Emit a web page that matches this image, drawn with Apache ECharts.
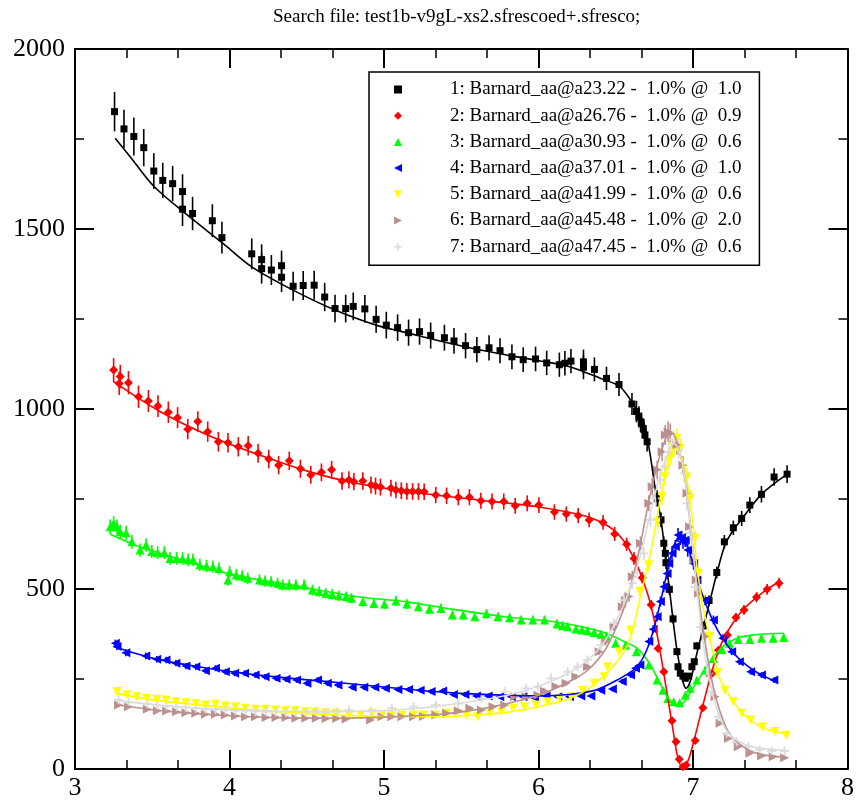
<!DOCTYPE html>
<html><head><meta charset="utf-8">
<script src="https://cdn.jsdelivr.net/npm/echarts@6/dist/echarts.min.js"></script>
<style>html,body{margin:0;padding:0;background:#fff}#c{width:857px;height:801px}</style>
</head><body><div id="c"></div>
<script>
const titleText = 'Search file: test1b-v9gL-xs2.sfrescoed+.sfresco;';
const legendNames = [
  '1: Barnard_aa@a23.22 -  1.0% @  1.0',
  '2: Barnard_aa@a26.76 -  1.0% @  0.9',
  '3: Barnard_aa@a30.93 -  1.0% @  0.6',
  '4: Barnard_aa@a37.01 -  1.0% @  1.0',
  '5: Barnard_aa@a41.99 -  1.0% @  0.6',
  '6: Barnard_aa@a45.48 -  1.0% @  2.0',
  '7: Barnard_aa@a47.45 -  1.0% @  0.6'
];
const colors = ['#000000','#ff0000','#00ff00','#0000ff','#ffff00','#bc8f8f','#dcdcdc'];
const errPct = 3; // relative size of the vertical error bars, %

const s1Points = [[3.256,1826],[3.317,1778],[3.381,1757],[3.445,1726],[3.510,1661],[3.568,1635],[3.632,1626],[3.696,1604],[3.696,1555],[3.761,1543],[3.889,1523],[3.951,1476],[4.144,1431],[4.208,1415],[4.208,1390],[4.271,1386],[4.337,1398],[4.337,1366],[4.412,1341],[4.477,1343],[4.548,1344],[4.616,1311],[4.683,1279],[4.752,1279],[4.801,1285],[4.876,1278],[4.949,1249],[5.015,1233],[5.088,1226],[5.159,1212],[5.230,1215],[5.302,1204],[5.391,1198],[5.453,1189],[5.528,1176],[5.601,1165],[5.680,1170],[5.751,1162],[5.828,1145],[5.901,1137],[5.981,1139],[6.053,1128],[6.135,1123],[6.171,1127],[6.210,1133],[6.291,1131],[6.291,1116],[6.362,1110],[6.440,1085],[6.521,1068],[6.605,1014],[6.634,993],[6.650,978],[6.665,962],[6.678,946],[6.689,928],[6.703,909],[6.768,752],[6.793,692],[6.811,627],[6.821,599],[6.825,573],[6.847,499],[6.871,417],[6.896,326],[6.903,284],[6.918,266],[6.935,258],[6.950,252],[6.972,258],[6.993,284],[7.008,298],[7.025,342],[7.068,398],[7.104,468],[7.154,546],[7.203,631],[7.261,670],[7.315,696],[7.368,733],[7.443,763],[7.525,811],[7.609,819]];
const s1Fit = [[3.26,1752],[3.357,1701],[3.507,1620],[3.70,1548],[3.958,1460],[4.144,1395],[4.408,1331],[4.683,1275],[4.949,1233],[5.116,1215],[5.545,1171],[5.974,1136],[6.189,1119],[6.403,1085],[6.521,1064],[6.596,1025],[6.682,960],[6.72,880],[6.757,775],[6.793,692],[6.843,516],[6.896,330],[6.935,243],[6.956,224],[6.982,243],[7.025,321],[7.068,395],[7.111,469],[7.154,543],[7.207,622],[7.261,664],[7.315,694],[7.443,763],[7.609,819]];

const s2Points = [[3.250,1108],[3.293,1090],[3.286,1071],[3.346,1073],[3.411,1034],[3.475,1022],[3.537,1008],[3.604,991],[3.664,976],[3.730,944],[3.795,965],[3.859,937],[3.928,909],[3.990,906],[4.057,895],[4.121,898],[4.185,877],[4.254,861],[4.318,844],[4.387,856],[4.459,834],[4.526,817],[4.595,824],[4.661,831],[4.728,800],[4.773,803],[4.805,798],[4.863,800],[4.916,789],[4.945,786],[4.977,783],[5.045,780],[5.077,775],[5.112,773],[5.148,771],[5.185,771],[5.223,771],[5.260,770],[5.335,761],[5.405,759],[5.481,755],[5.553,755],[5.627,745],[5.699,743],[5.775,743],[5.849,731],[5.927,738],[6.002,733],[6.103,714],[6.180,708],[6.257,704],[6.328,692],[6.418,685],[6.493,653],[6.570,624],[6.618,585],[6.671,531],[6.729,456],[6.774,335],[6.811,270],[6.864,134],[6.890,76],[6.911,27],[6.935,6],[6.956,11],[7.014,79],[7.064,170],[7.122,265],[7.165,330],[7.223,372],[7.278,421],[7.330,442],[7.411,477],[7.480,499],[7.557,516]];
const s2Fit = [[3.25,1076],[3.55,993],[3.872,925],[4.194,872],[4.515,826],[4.816,794],[5.2,768],[5.6,748],[6.0,728],[6.3,703],[6.45,675],[6.55,635],[6.62,583],[6.68,520],[6.73,450],[6.78,345],[6.83,215],[6.87,110],[6.90,35],[6.935,2],[6.97,25],[7.01,85],[7.06,170],[7.12,268],[7.18,345],[7.25,400],[7.33,445],[7.45,490],[7.557,520]];

const s3Points = [[3.228,673],[3.250,682],[3.272,673],[3.293,659],[3.331,656],[3.368,631],[3.421,608],[3.460,622],[3.497,604],[3.535,601],[3.578,601],[3.615,585],[3.658,585],[3.696,585],[3.732,581],[3.764,581],[3.808,567],[3.851,564],[3.893,562],[3.932,557],[3.990,525],[4.001,548],[4.044,539],[4.082,536],[4.118,530],[4.194,525],[4.230,522],[4.269,520],[4.311,516],[4.344,511],[4.387,511],[4.430,511],[4.483,511],[4.537,497],[4.580,493],[4.623,488],[4.665,485],[4.708,481],[4.755,479],[4.790,474],[4.863,465],[4.934,460],[5.003,458],[5.077,467],[5.148,458],[5.223,451],[5.294,444],[5.369,446],[5.442,428],[5.513,428],[5.588,423],[5.663,431],[5.738,423],[5.813,420],[5.888,414],[5.963,414],[6.039,414],[6.120,403],[6.156,398],[6.189,395],[6.242,389],[6.281,386],[6.317,384],[6.360,379],[6.403,374],[6.441,369],[6.499,349],[6.564,344],[6.634,326],[6.714,289],[6.768,247],[6.806,219],[6.836,196],[6.875,187],[6.914,184],[6.950,205],[6.982,224],[7.025,247],[7.078,275],[7.132,307],[7.186,332],[7.236,349],[7.293,360],[7.368,360],[7.443,363],[7.519,363],[7.587,365]];
const s3Fit = [[3.228,652],[3.4,620],[3.55,599],[3.8,566],[3.979,544],[4.2,525],[4.408,510],[4.6,495],[4.837,478],[5.138,465],[5.438,444],[5.781,423],[6.103,409],[6.3,393],[6.425,379],[6.55,355],[6.639,335],[6.72,292],[6.78,243],[6.83,203],[6.87,181],[6.907,175],[6.95,190],[7.0,225],[7.06,265],[7.12,305],[7.2,343],[7.3,365],[7.4,373],[7.5,376],[7.587,377]];

const s4Points = [[3.261,349],[3.272,340],[3.329,323],[3.458,314],[3.529,305],[3.589,303],[3.653,294],[3.718,286],[3.782,284],[3.844,273],[3.909,280],[3.973,270],[4.033,266],[4.097,266],[4.166,261],[4.230,256],[4.301,252],[4.366,249],[4.434,247],[4.501,238],[4.569,247],[4.633,238],[4.702,233],[4.794,227],[4.869,227],[4.940,227],[5.009,224],[5.090,221],[5.159,221],[5.234,219],[5.305,215],[5.380,217],[5.449,207],[5.524,207],[5.598,203],[5.674,203],[5.749,201],[5.824,201],[5.899,201],[5.974,198],[6.049,203],[6.124,201],[6.200,201],[6.274,203],[6.339,203],[6.403,219],[6.478,222],[6.542,243],[6.596,261],[6.628,280],[6.656,289],[6.714,354],[6.742,388],[6.768,423],[6.789,465],[6.811,506],[6.832,543],[6.843,571],[6.864,599],[6.886,618],[6.903,650],[6.918,641],[6.935,631],[6.950,636],[6.966,608],[7.004,571],[7.025,525],[7.078,469],[7.132,414],[7.192,363],[7.250,326],[7.300,298],[7.373,270],[7.443,261],[7.523,247]];
const s4Fit = [[3.25,340],[3.5,308],[3.8,284],[4.0,271],[4.3,256],[4.6,244],[4.9,232],[5.2,220],[5.5,210],[5.8,205],[6.0,203],[6.2,207],[6.35,217],[6.425,229],[6.5,245],[6.58,265],[6.639,284],[6.7,330],[6.75,395],[6.79,465],[6.84,560],[6.88,625],[6.918,645],[6.95,630],[6.99,585],[7.04,510],[7.1,440],[7.16,385],[7.22,345],[7.3,305],[7.4,272],[7.523,245]];

const s5Points = [[3.272,215],[3.336,206],[3.400,201],[3.465,196],[3.529,194],[3.589,192],[3.653,187],[3.718,184],[3.782,182],[3.846,178],[3.909,180],[3.973,175],[4.039,173],[4.104,169],[4.168,166],[4.232,166],[4.297,164],[4.361,162],[4.425,162],[4.490,159],[4.554,158],[4.623,156],[4.691,155],[4.773,150],[4.848,150],[4.923,155],[4.987,150],[5.051,150],[5.116,150],[5.191,150],[5.255,150],[5.331,150],[5.405,155],[5.470,155],[5.534,150],[5.609,145],[5.685,155],[5.759,159],[5.835,169],[5.910,173],[5.985,178],[6.060,187],[6.135,196],[6.210,201],[6.285,219],[6.360,238],[6.425,256],[6.446,284],[6.521,326],[6.596,386],[6.656,493],[6.714,567],[6.772,687],[6.800,756],[6.817,812],[6.843,858],[6.858,869],[6.875,895],[6.896,919],[6.918,891],[6.961,812],[6.982,752],[7.014,641],[7.036,543],[7.057,474],[7.107,368],[7.158,268],[7.207,219],[7.261,187],[7.315,155],[7.373,136],[7.450,117],[7.529,104],[7.604,94]];
const s5Fit = [[3.27,210],[3.5,192],[3.8,178],[4.1,166],[4.4,157],[4.708,150],[5.0,146],[5.36,145],[5.6,150],[5.8,158],[6.0,173],[6.2,196],[6.317,221],[6.43,262],[6.532,312],[6.6,370],[6.66,480],[6.725,599],[6.768,700],[6.81,800],[6.85,865],[6.885,890],[6.92,875],[6.96,805],[7.0,680],[7.025,562],[7.07,440],[7.111,358],[7.17,255],[7.24,201],[7.32,155],[7.42,122],[7.5,108],[7.604,97]];

const s6Points = [[3.282,178],[3.346,173],[3.468,166],[3.533,162],[3.593,161],[3.658,159],[3.718,156],[3.782,155],[3.844,152],[3.909,152],[3.973,150],[4.039,147],[4.104,145],[4.168,145],[4.237,143],[4.301,143],[4.366,143],[4.430,141],[4.494,141],[4.562,141],[4.626,140],[4.694,140],[4.755,139],[4.913,136],[4.987,145],[5.051,145],[5.116,145],[5.191,145],[5.255,146],[5.335,150],[5.405,155],[5.481,162],[5.556,169],[5.631,164],[5.706,173],[5.781,178],[5.845,201],[5.920,201],[5.996,205],[6.039,217],[6.113,229],[6.178,238],[6.242,256],[6.317,284],[6.393,326],[6.435,354],[6.489,395],[6.542,451],[6.564,469],[6.585,479],[6.607,534],[6.660,627],[6.714,738],[6.736,784],[6.768,831],[6.800,881],[6.821,928],[6.839,937],[6.853,932],[6.896,900],[6.935,844],[6.961,766],[6.978,673],[7.004,581],[7.021,525],[7.036,488],[7.078,368],[7.111,266],[7.143,201],[7.175,127],[7.229,85],[7.293,62],[7.368,44],[7.443,36],[7.519,34],[7.593,31]];
const s6Fit = [[3.28,178],[3.6,160],[4.0,148],[4.4,142],[4.708,141],[5.0,144],[5.36,152],[5.6,165],[5.8,182],[6.0,205],[6.1,222],[6.2,243],[6.32,275],[6.43,330],[6.5,390],[6.56,455],[6.61,530],[6.66,625],[6.71,735],[6.76,830],[6.8,890],[6.84,930],[6.87,932],[6.9,900],[6.94,830],[6.98,690],[7.02,530],[7.06,405],[7.1,295],[7.15,195],[7.2,130],[7.25,90],[7.35,55],[7.45,40],[7.593,33]];

const s7Points = [[3.282,192],[3.346,185],[3.468,180],[3.533,176],[3.593,175],[3.658,173],[3.718,171],[3.782,169],[3.844,166],[3.909,166],[3.973,164],[4.039,162],[4.104,162],[4.168,160],[4.237,159],[4.301,159],[4.366,157],[4.430,157],[4.494,157],[4.562,159],[4.626,157],[4.694,159],[4.773,164],[4.913,162],[5.051,169],[5.191,173],[5.335,178],[5.481,182],[5.631,196],[5.781,215],[5.920,224],[5.996,229],[6.081,252],[6.189,270],[6.253,284],[6.317,303],[6.403,344],[6.489,405],[6.553,469],[6.607,516],[6.639,553],[6.682,599],[6.725,692],[6.757,752],[6.789,803],[6.821,840],[6.843,881],[6.875,914],[6.907,886],[6.943,821],[6.961,738],[6.982,655],[7.014,506],[7.047,395],[7.090,275],[7.122,215],[7.165,145],[7.218,99],[7.282,76],[7.358,62],[7.432,53],[7.510,50],[7.593,50]];
const s7Fit = [[3.28,190],[3.6,175],[4.0,165],[4.4,160],[4.8,160],[5.2,168],[5.5,183],[5.8,205],[6.0,230],[6.2,268],[6.35,315],[6.45,370],[6.55,455],[6.62,535],[6.68,630],[6.74,740],[6.79,820],[6.84,880],[6.875,905],[6.91,885],[6.95,800],[6.99,650],[7.03,480],[7.07,340],[7.11,240],[7.16,160],[7.22,105],[7.3,75],[7.4,60],[7.593,52]];

const allPoints = [s1Points,s2Points,s3Points,s4Points,s5Points,s6Points,s7Points];
const allFits = [s1Fit,s2Fit,s3Fit,s4Fit,s5Fit,s6Fit,s7Fit];
const PLUS = 'path://M4,0H6V4H10V6H6V10H4V6H0V4H4Z';
const symbols = ['rect','diamond','triangle','triangle','triangle','triangle',PLUS];
const symbolRotates = [0,0,0,90,180,-90,0];
const symbolSizes = [7,9,9,9,9,9,9];
const legendIcons = ['rect','diamond','path://M5,0L10,10L0,10Z','path://M0,5L10,0L10,10Z','path://M0,0L10,0L5,10Z','path://M0,0L10,5L0,10Z',PLUS];

const FONT = 'Liberation Serif';
const series = [];
for (let i = 0; i < 7; i++) {
  const c = colors[i];
  series.push({
    type: 'line', name: 'fit' + (i + 1), data: allFits[i], showSymbol: false, symbol: 'none',
    smooth: 0.3, lineStyle: { color: c, width: 1.6 }, silent: true, animation: false
  });
  series.push({
    type: 'custom', name: 'err' + (i + 1), silent: true, animation: false,
    data: allPoints[i].map(p => [p[0], p[1] * (1 - errPct / 100), p[1] * (1 + errPct / 100)]),
    encode: { x: 0, y: [1, 2] },
    renderItem: function (params, api) {
      const a = api.coord([api.value(0), api.value(1)]);
      const b = api.coord([api.value(0), api.value(2)]);
      return { type: 'line', shape: { x1: a[0], y1: a[1], x2: b[0], y2: b[1] }, style: { stroke: c, lineWidth: 1.6 } };
    }
  });
  series.push({
    type: 'scatter', name: legendNames[i], data: allPoints[i], symbol: symbols[i],
    symbolRotate: symbolRotates[i], symbolSize: symbolSizes[i],
    itemStyle: { color: c, opacity: 1 }, animation: false
  });
}

function xAx(pos, showLabel) {
  return {
    type: 'value', min: 3, max: 8, interval: 1, position: pos,
    axisLine: { show: true, onZero: false, lineStyle: { color: '#000', width: 2 } },
    axisTick: { show: true, inside: true, length: 19, lineStyle: { color: '#000', width: 2 } },
    minorTick: { show: true, splitNumber: 3, length: 9, lineStyle: { color: '#000', width: 1.5 } },
    axisLabel: { show: showLabel, fontFamily: FONT, fontSize: 26, color: '#000', margin: 6, formatter: v => String(v) },
    splitLine: { show: false }, minorSplitLine: { show: false }
  };
}
function yAx(pos, showLabel) {
  return {
    type: 'value', min: 0, max: 2000, interval: 500, position: pos,
    axisLine: { show: true, onZero: false, lineStyle: { color: '#000', width: 2 } },
    axisTick: { show: true, inside: true, length: 19, lineStyle: { color: '#000', width: 2 } },
    minorTick: { show: true, splitNumber: 2, length: 9, lineStyle: { color: '#000', width: 1.5 } },
    axisLabel: { show: showLabel, fontFamily: FONT, fontSize: 26, color: '#000', margin: 10, formatter: v => String(v) },
    splitLine: { show: false }, minorSplitLine: { show: false }
  };
}

const legendData = legendNames.map((n, i) => ({ name: n, icon: legendIcons[i] }));

const chart = echarts.init(document.getElementById('c'), null, { renderer: 'canvas' });
chart.setOption({
  backgroundColor: '#ffffff',
  animation: false,
  title: {
    text: titleText, left: 273, top: 8, padding: 0,
    textStyle: { fontFamily: FONT, fontSize: 19, fontWeight: 'normal', color: '#000' }
  },
  legend: {
    data: legendData, orient: 'vertical', left: 369, top: 72,
    padding: [8, 18, 9, 25], itemGap: 7.2, itemWidth: 8, itemHeight: 8,
    backgroundColor: '#ffffff', borderColor: '#000', borderWidth: 1.5, borderRadius: 0,
    textStyle: { fontFamily: FONT, fontSize: 19, color: '#000', lineHeight: 19, padding: [0, 0, 0, 43] },
    selectedMode: false
  },
  grid: { left: 75, right: 6, top: 49, bottom: 32, containLabel: false },
  xAxis: [xAx('bottom', true), xAx('top', false)],
  yAxis: [yAx('left', true), yAx('right', false)],
  series: series
});
</script></body></html>
